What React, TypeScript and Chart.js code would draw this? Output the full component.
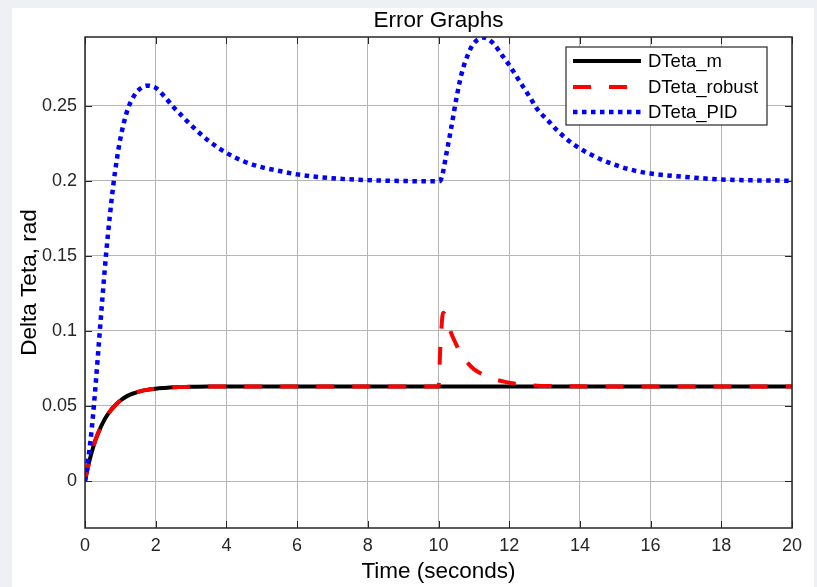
import React, { useEffect, useRef } from "react";
import { Chart, registerables } from "chart.js";

Chart.register(...registerables);

const chartTitle = "Error Graphs";
const xLabel = "Time (seconds)";
const yLabel = "Delta Teta, rad";
const xTicks = [0, 2, 4, 6, 8, 10, 12, 14, 16, 18, 20];
const yTicks = [0, 0.05, 0.1, 0.15, 0.2, 0.25];
const seriesNames = ["DTeta_m", "DTeta_robust", "DTeta_PID"];

const time = [
  0, 0.1, 0.2, 0.3, 0.4, 0.5, 0.6, 0.7, 0.8, 0.9,
  1.0, 1.2, 1.4, 1.6, 1.75, 2.0, 2.25, 2.5, 2.75, 3.0,
  3.5, 4.0, 4.5, 5.0, 5.5, 6.0, 7.0, 8.0, 9.0, 10.0,
  10.05, 10.13, 10.2, 10.35, 10.5, 10.65, 10.85, 11.0, 11.27, 11.55,
  11.8, 12.0, 12.3, 12.6, 12.8, 13.1, 13.4, 13.8, 14.4, 15.0,
  15.5, 16.0, 17.0, 18.0, 19.0, 20.0,
];

const dtetaM = [
  0, 0.011, 0.02, 0.0275, 0.0335, 0.0386, 0.0428, 0.0462, 0.049, 0.0515,
  0.0536, 0.0567, 0.0586, 0.06, 0.0607, 0.0615, 0.062, 0.0624, 0.0626, 0.0628,
  0.063, 0.063, 0.063, 0.063, 0.063, 0.063, 0.063, 0.063, 0.063, 0.063,
  0.063, 0.063, 0.063, 0.063, 0.063, 0.063, 0.063, 0.063, 0.063, 0.063,
  0.063, 0.063, 0.063, 0.063, 0.063, 0.063, 0.063, 0.063, 0.063, 0.063,
  0.063, 0.063, 0.063, 0.063, 0.063, 0.063,
];

const dtetaRobust = [
  0, 0.011, 0.02, 0.0275, 0.0335, 0.0386, 0.0428, 0.0462, 0.049, 0.0515,
  0.0536, 0.0567, 0.0586, 0.06, 0.0607, 0.0615, 0.062, 0.0624, 0.0626, 0.0628,
  0.063, 0.063, 0.063, 0.063, 0.063, 0.063, 0.063, 0.063, 0.063, 0.063,
  0.088, 0.112, 0.11, 0.099, 0.091, 0.084, 0.078, 0.0745, 0.0708, 0.068,
  0.0665, 0.0655, 0.0645, 0.0638, 0.0635, 0.0633, 0.0632, 0.0631, 0.063, 0.063,
  0.063, 0.063, 0.063, 0.063, 0.063, 0.063,
];

const dtetaPID = [
  0, 0.016, 0.037, 0.064, 0.094, 0.124, 0.152, 0.176, 0.197, 0.214,
  0.228, 0.247, 0.257, 0.262, 0.2633, 0.2618, 0.256, 0.249, 0.243, 0.237,
  0.2265, 0.2185, 0.2128, 0.209, 0.2065, 0.2042, 0.2016, 0.2004, 0.1998, 0.1996,
  0.2, 0.206, 0.215, 0.234, 0.254, 0.271, 0.285, 0.2915, 0.2953, 0.2915,
  0.2835, 0.277, 0.266, 0.255, 0.2475, 0.24, 0.2325, 0.2245, 0.2163, 0.2105,
  0.207, 0.2048, 0.2025, 0.2008, 0.2002, 0.2,
];

const FONT = "'Liberation Sans', Arial, Helvetica, sans-serif";

const toPoints = (ys: number[]) => ys.map((y, i) => ({ x: time[i], y }));

const decorPlugin = {
  id: "matlabDecor",
  afterDraw(chart: any) {
    const { ctx, chartArea } = chart;
    const { left, right, top, bottom } = chartArea;
    const xs = chart.scales.x;
    const ys = chart.scales.y;
    ctx.save();
    // inner tick marks
    ctx.strokeStyle = "#262626";
    ctx.lineWidth = 1;
    ctx.beginPath();
    const tl = 7;
    xTicks.forEach((v) => {
      const px = Math.round(xs.getPixelForValue(v)) + 0.5;
      ctx.moveTo(px, bottom);
      ctx.lineTo(px, bottom - tl);
      ctx.moveTo(px, top);
      ctx.lineTo(px, top + tl);
    });
    yTicks.forEach((v) => {
      const py = Math.round(ys.getPixelForValue(v)) + 0.5;
      ctx.moveTo(left, py);
      ctx.lineTo(left + tl, py);
      ctx.moveTo(right, py);
      ctx.lineTo(right - tl, py);
    });
    ctx.stroke();
    // box
    ctx.lineWidth = 1.5;
    ctx.strokeRect(left, top, right - left, bottom - top);

    // title and axis labels
    ctx.fillStyle = "#000";
    ctx.textAlign = "center";
    ctx.textBaseline = "middle";
    ctx.font = `22.5px ${FONT}`;
    const cx = (left + right) / 2;
    ctx.fillText(chartTitle, cx, 21);
    ctx.fillText(xLabel, cx, 572);
    ctx.save();
    ctx.translate(30, (top + bottom) / 2);
    ctx.rotate(-Math.PI / 2);
    ctx.fillText(yLabel, 0, 0);
    ctx.restore();

    // legend
    const bx = 566, by = 47, bw = 201, bh = 78;
    ctx.fillStyle = "#fff";
    ctx.fillRect(bx, by, bw, bh);
    ctx.lineWidth = 1.2;
    ctx.strokeStyle = "#262626";
    ctx.strokeRect(bx, by, bw, bh);
    const rows = [61, 87, 112];
    chart.data.datasets.forEach((ds: any, i: number) => {
      const y = rows[i];
      ctx.save();
      ctx.strokeStyle = ds.borderColor;
      ctx.lineWidth = ds.borderWidth;
      ctx.setLineDash(ds.borderDash || []);
      ctx.beginPath();
      ctx.moveTo(573, y);
      ctx.lineTo(641, y);
      ctx.stroke();
      ctx.restore();
      ctx.fillStyle = "#000";
      ctx.textAlign = "left";
      ctx.textBaseline = "middle";
      ctx.font = `18.5px ${FONT}`;
      ctx.fillText(ds.label, 648, y + 1);
    });
    ctx.restore();
  },
};

export default function App() {
  const ref = useRef<HTMLCanvasElement | null>(null);

  useEffect(() => {
    if (!ref.current) return;
    const chart = new Chart(ref.current, {
      type: "line",
      data: {
        datasets: [
          {
            label: seriesNames[0],
            data: toPoints(dtetaM),
            borderColor: "#000000",
            borderWidth: 4,
            pointRadius: 0,
            cubicInterpolationMode: "monotone",
            order: 3,
          },
          {
            label: seriesNames[1],
            data: toPoints(dtetaRobust),
            borderColor: "#ff0000",
            borderWidth: 4,
            borderDash: [18, 18],
            pointRadius: 0,
            cubicInterpolationMode: "monotone",
            order: 2,
          },
          {
            label: seriesNames[2],
            data: toPoints(dtetaPID),
            borderColor: "#0000ff",
            borderWidth: 4.5,
            borderDash: [4.5, 4.5],
            pointRadius: 0,
            cubicInterpolationMode: "monotone",
            order: 1,
          },
        ],
      },
      options: {
        animation: false,
        responsive: false,
        layout: { padding: { top: 37, right: 25, left: 0, bottom: 0 } },
        plugins: {
          legend: { display: false },
          title: { display: false },
          tooltip: { enabled: false },
        },
        scales: {
          x: {
            type: "linear",
            min: 0,
            max: 20,
            afterBuildTicks: (s: any) => {
              s.ticks = xTicks.map((v) => ({ value: v }));
            },
            afterFit: (s: any) => {
              s.height = 59;
            },
            grid: { color: "#b5b5b5", lineWidth: 1, drawTicks: false },
            border: { display: false },
            ticks: {
              padding: 7,
              color: "#262626",
              font: { family: FONT, size: 18 },
              maxRotation: 0,
              autoSkip: false,
              callback: (v: any) => String(v),
            },
          },
          y: {
            type: "linear",
            min: -0.0313,
            max: 0.2957,
            afterBuildTicks: (s: any) => {
              s.ticks = yTicks.map((v) => ({ value: v }));
            },
            afterFit: (s: any) => {
              s.width = 85;
            },
            grid: { color: "#b5b5b5", lineWidth: 1, drawTicks: false },
            border: { display: false },
            ticks: {
              padding: 8,
              color: "#262626",
              font: { family: FONT, size: 18 },
              autoSkip: false,
              callback: (v: any) => String(v),
            },
          },
        },
      },
      plugins: [decorPlugin],
    } as any);
    return () => chart.destroy();
  }, []);

  return (
    <div
      style={{
        position: "fixed",
        left: 0,
        top: 0,
        width: 817,
        height: 587,
        background: "#eef0f3",
        overflow: "hidden",
      }}
    >
      <div
        style={{
          position: "absolute",
          left: 12,
          top: 8,
          width: 802,
          height: 579,
          background: "#ffffff",
        }}
      />
      <canvas
        ref={ref}
        width={817}
        height={587}
        style={{ position: "absolute", left: 0, top: 0, width: 817, height: 587 }}
      />
    </div>
  );
}
